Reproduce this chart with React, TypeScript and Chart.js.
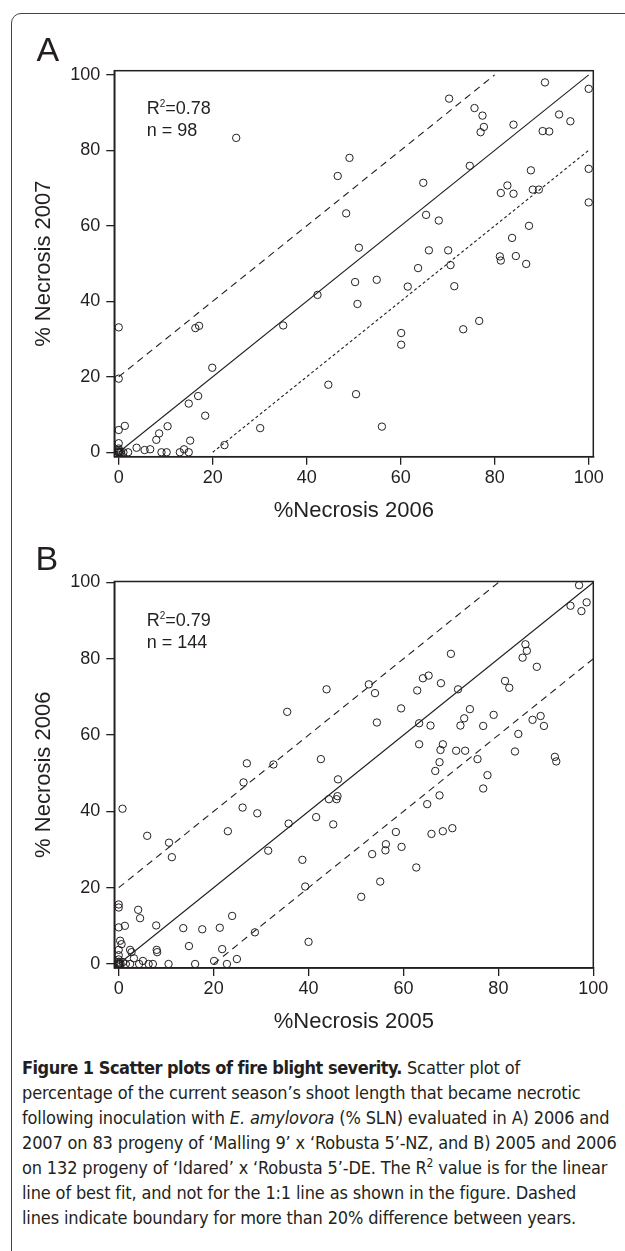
import React, { useEffect, useRef } from "react";
import { Chart, registerables } from "chart.js";

Chart.register(...registerables);

// ---------- data ----------
const TICKS = [0, 20, 40, 60, 80, 100];

// Panel A: %Necrosis 2006 (x) vs % Necrosis 2007 (y)
const A_X_2006 = [
  25.0, 46.6, 70.3, 75.7, 77.4, 77.7, 77.0, 84.0, 90.7, 100, 93.7, 96.1, 90.2, 91.6,
  49.1, 74.7, 64.8, 87.7, 100, 100, 82.7, 81.3, 84.0, 88.1, 89.4, 48.4, 65.4, 68.1,
  87.3, 83.7, 51.1, 66.0, 70.1, 81.1, 81.3, 84.5, 86.7, 42.3, 50.3, 54.9, 50.8, 63.7,
  61.5, 70.6, 71.4, 60.1, 60.1, 73.3, 76.7, 44.6, 50.5, 56.0, 0, 0, 16.3, 17.1, 19.9,
  35.0, 16.9, 14.9, 18.4, 30.1, 22.5, 0, 1.3, 0, 10.4, 8.6, 8.0, 15.2, 3.8, 5.5, 6.7,
  2.0, 9.1, 10.2, 13.0, 13.9, 14.9, 0, 0, 0.5, 0, 0, 0, 0.3, 0, 1.0,
];
const A_Y_2007 = [
  83.3, 73.2, 93.7, 91.2, 89.2, 86.2, 84.8, 86.8, 98.0, 96.3, 89.5, 87.7, 85.1, 85.0,
  78.0, 75.9, 71.4, 74.7, 75.1, 66.2, 70.7, 68.7, 68.5, 69.6, 69.6, 63.3, 62.9, 61.4,
  60.0, 56.8, 54.2, 53.5, 53.5, 51.9, 50.8, 52.0, 49.9, 41.7, 45.1, 45.7, 39.3, 48.8,
  43.9, 49.6, 44.0, 31.6, 28.5, 32.6, 34.8, 17.9, 15.4, 6.8, 33.1, 19.5, 32.9, 33.5, 22.4,
  33.6, 14.9, 12.9, 9.7, 6.4, 1.9, 5.9, 7.0, 2.4, 6.9, 5.0, 3.3, 3.1, 1.2, 0.6, 0.8,
  0, 0, 0, 0, 0.8, 0, 0, 0.6, 0, 0, 1.0, 0, 0, 0.3, 0,
];

// Panel B: %Necrosis 2005 (x) vs % Necrosis 2006 (y)
const B_X_2005 = [
  27.0, 32.6, 35.5, 43.8, 42.6, 46.2, 26.3, 97.0, 95.2, 97.5, 98.6, 85.7, 86.0, 85.1,
  88.1, 70.0, 81.4, 82.3, 64.1, 65.3, 67.9, 62.9, 71.5, 52.7, 54.0, 59.5, 74.0, 72.8,
  72.0, 76.8, 79.0, 87.2, 88.9, 89.6, 54.4, 63.3, 65.7, 84.2, 83.5, 63.3, 68.3, 67.8,
  71.1, 73.0, 67.6, 66.7, 75.6, 77.7, 91.9, 92.2, 0.8, 6.0, 10.6, 11.2, 26.1, 29.2,
  23.0, 35.8, 31.5, 41.6, 45.2, 44.3, 45.9, 46.1, 38.7, 39.3, 40.0, 28.7, 23.9, 21.3,
  17.6, 13.6, 14.8, 21.8, 24.9, 20.1, 22.8, 16.1, 10.5, 7.9, 1.3, 0, 0, 0, 4.1, 4.5,
  0.3, 0.6, 0, 0, 2.4, 2.7, 8.0, 8.1, 3.2, 5.1, 2.4, 4.3, 6.3, 7.2, 0, 0.9, 76.8, 67.6,
  65.0, 58.4, 56.3, 56.2, 53.4, 59.6, 65.9, 68.3, 70.3, 62.7, 55.1, 51.1, 0, 0, 0.4, 0,
  0, 1.5, 0, 0.2,
];
const B_Y_2006 = [
  52.6, 52.3, 66.1, 72.0, 53.7, 48.4, 47.6, 99.3, 93.9, 92.5, 94.8, 83.8, 82.1, 80.3,
  77.9, 81.3, 74.2, 72.4, 74.9, 75.6, 73.6, 71.7, 72.0, 73.3, 71.0, 67.0, 66.8, 64.4,
  62.5, 62.4, 65.3, 64.0, 65.0, 62.4, 63.3, 63.1, 62.5, 60.3, 55.7, 57.6, 57.6, 56.1,
  55.9, 55.9, 52.9, 50.6, 53.7, 49.5, 54.3, 53.1, 40.7, 33.6, 31.8, 28.0, 41.0, 39.5,
  34.8, 36.8, 29.7, 38.5, 36.6, 43.2, 43.2, 44.0, 27.3, 20.3, 5.8, 8.3, 12.6, 9.5,
  9.1, 9.4, 4.7, 3.9, 1.3, 0.8, 0, 0, 0, 10.1, 10.0, 9.6, 15.6, 14.8, 14.2, 12.0,
  6.1, 5.2, 3.7, 2.3, 3.7, 3.1, 3.7, 3.1, 1.5, 0.8, 0, 0, 0, 0, 0, 0.5, 46.0, 44.2,
  41.9, 34.6, 31.4, 29.8, 28.8, 30.7, 34.1, 34.8, 35.6, 25.3, 21.6, 17.6, 0, 0.6, 0, 1.2,
  0, 0, 0.3, 0,
];

// reference lines: 1:1 and +/-20 boundaries
const LINE_1TO1_X = [0, 100];
const LINE_1TO1_Y = [0, 100];
const LINE_UPPER_X = [0, 80];
const LINE_UPPER_Y = [20, 100];
const LINE_LOWER_X = [20, 100];
const LINE_LOWER_Y = [0, 80];

// ---------- styling ----------
const INK = "#231f20";
const FONT = '"Liberation Sans", Arial, Helvetica, sans-serif';

const framePlugin = {
  id: "frame",
  afterDatasetsDraw(chart: any) {
    const { ctx, chartArea } = chart;
    const { left, top, right, bottom } = chartArea;
    ctx.save();
    ctx.strokeStyle = INK;
    ctx.lineWidth = 1.5;
    ctx.strokeRect(left, top, right - left, bottom - top);
    ctx.restore();
  },
};

const pts = (xs: number[], ys: number[]) => xs.map((x, i) => ({ x, y: ys[i] }));

type PanelOpts = {
  xs: number[];
  ys: number[];
  xTitle: string;
  yTitle: string;
  xMin: number;
  xMax: number;
  yMin: number;
  yMax: number;
  padTop: number;
  padBottom: number;
  lowerDash: number[];
  upperDash: number[];
};

function makeConfig(o: PanelOpts): any {
  const lineDs = (xs: number[], ys: number[], dash: number[]) => ({
    data: pts(xs, ys),
    showLine: true,
    pointRadius: 0,
    pointHoverRadius: 0,
    borderColor: INK,
    borderWidth: 1.1,
    borderDash: dash,
    fill: false,
  });
  return {
    type: "scatter",
    data: {
      datasets: [
        lineDs(LINE_1TO1_X, LINE_1TO1_Y, []),
        lineDs(LINE_UPPER_X, LINE_UPPER_Y, o.upperDash),
        lineDs(LINE_LOWER_X, LINE_LOWER_Y, o.lowerDash),
        {
          data: pts(o.xs, o.ys),
          pointRadius: 3.7,
          pointHoverRadius: 3.7,
          pointBorderWidth: 1,
          borderColor: INK,
          backgroundColor: "rgba(0,0,0,0)",
          pointStyle: "circle",
        },
      ],
    },
    options: {
      responsive: false,
      animation: false,
      events: [],
      layout: { padding: { left: 0, top: o.padTop, right: 31.7, bottom: o.padBottom } },
      plugins: { legend: { display: false }, tooltip: { enabled: false }, title: { display: false } },
      scales: {
        x: {
          type: "linear",
          min: o.xMin,
          max: o.xMax,
          afterBuildTicks: (s: any) => {
            s.ticks = TICKS.map((v) => ({ value: v }));
          },
          afterFit: (s: any) => {
            s.height = 70;
          },
          grid: { display: true, drawOnChartArea: false, drawTicks: true, tickLength: 8, color: INK, lineWidth: 1.3 },
          border: { display: true, color: INK, width: 1.5 },
          ticks: { font: { family: FONT, size: 18 }, color: INK, padding: 2.5, maxRotation: 0 },
          title: {
            display: true,
            text: o.xTitle,
            color: INK,
            font: { family: FONT, size: 22 },
            padding: { top: 0, bottom: 2.5 },
          },
        },
        y: {
          type: "linear",
          min: o.yMin,
          max: o.yMax,
          afterBuildTicks: (s: any) => {
            s.ticks = TICKS.map((v) => ({ value: v }));
          },
          afterFit: (s: any) => {
            s.width = 114.3;
          },
          grid: { display: true, drawOnChartArea: false, drawTicks: true, tickLength: 8, color: INK, lineWidth: 1.3 },
          border: { display: true, color: INK, width: 1.5 },
          ticks: { font: { family: FONT, size: 18 }, color: INK, padding: 6 },
          title: {
            display: true,
            text: o.yTitle,
            color: INK,
            font: { family: FONT, size: 22 },
            padding: { top: 30.3, bottom: 0 },
          },
        },
      },
    },
    plugins: [framePlugin],
  };
}

function Panel({ top, height, opts }: { top: number; height: number; opts: PanelOpts }) {
  const ref = useRef<HTMLCanvasElement | null>(null);
  useEffect(() => {
    if (!ref.current) return;
    const chart = new Chart(ref.current, makeConfig(opts));
    return () => chart.destroy();
  }, []);
  return (
    <canvas
      ref={ref}
      width={625}
      height={height}
      style={{ position: "absolute", left: 0, top, width: 625, height }}
    />
  );
}

const statStyle: React.CSSProperties = {
  position: "absolute",
  left: 146.7,
  fontFamily: FONT,
  fontSize: 18,
  lineHeight: "22px",
  color: INK,
  whiteSpace: "nowrap",
};

const letterStyle: React.CSSProperties = {
  position: "absolute",
  fontFamily: FONT,
  fontSize: 34,
  lineHeight: "34px",
  color: INK,
};

export default function App() {
  useEffect(() => {
    document.body.style.margin = "0";
  }, []);

  const optsA: PanelOpts = {
    xs: A_X_2006,
    ys: A_Y_2007,
    xTitle: "%Necrosis 2006",
    yTitle: "% Necrosis 2007",
    xMin: -0.94,
    xMax: 100.98,
    yMin: -1.17,
    yMax: 101.1,
    padTop: 70.7,
    padBottom: 530 - 456.7 - 70,
    upperDash: [7, 5],
    lowerDash: [3, 2.5],
  };
  const optsB: PanelOpts = {
    xs: B_X_2005,
    ys: B_Y_2006,
    xTitle: "%Necrosis 2005",
    yTitle: "% Necrosis 2006",
    xMin: -0.93,
    xMax: 100,
    yMin: -1.05,
    yMax: 100.26,
    padTop: 581.5 - 530,
    padBottom: 510 - (968 - 530) - 70,
    upperDash: [7, 5],
    lowerDash: [7, 5],
  };

  const capLine: React.CSSProperties = { whiteSpace: "nowrap" };

  return (
    <div style={{ position: "relative", width: 625, height: 1251, overflow: "hidden", background: "#fff" }}>
      <div
        style={{
          position: "absolute",
          left: 11,
          top: 13,
          width: 700,
          height: 1260,
          border: "1.4px solid #444",
          borderRadius: "10px 0 0 10px",
          boxSizing: "border-box",
        }}
      />
      <Panel top={0} height={530} opts={optsA} />
      <Panel top={530} height={510} opts={optsB} />

      <div style={{ ...letterStyle, left: 36.5, top: 32.2 }}>A</div>
      <div style={{ ...letterStyle, left: 35.5, top: 541.2 }}>B</div>

      <div style={{ ...statStyle, top: 97.2 }}>
        <div>
          R<sup style={{ fontSize: 10, verticalAlign: "7px", lineHeight: 0 }}>2</sup>=0.78
        </div>
        <div>n = 98</div>
      </div>
      <div style={{ ...statStyle, top: 609.2 }}>
        <div>
          R<sup style={{ fontSize: 10, verticalAlign: "7px", lineHeight: 0 }}>2</sup>=0.79
        </div>
        <div>n = 144</div>
      </div>

      <div
        style={{
          position: "absolute",
          left: 22,
          top: 1054.5,
          fontFamily: '"DejaVu Sans Condensed", "Open Sans", sans-serif',
          fontSize: 18,
          letterSpacing: "-0.15px",
          lineHeight: "25px",
          color: INK,
        }}
      >
        <div style={capLine}>
          <b style={{ letterSpacing: "-0.5px" }}>Figure 1 Scatter plots of fire blight severity.</b> Scatter plot of
        </div>
        <div style={capLine}>percentage of the current season’s shoot length that became necrotic</div>
        <div style={capLine}>
          following inoculation with <i>E. amylovora</i> (% SLN) evaluated in A) 2006 and
        </div>
        <div style={capLine}>2007 on 83 progeny of ‘Malling 9’ x ‘Robusta 5’-NZ, and B) 2005 and 2006</div>
        <div style={capLine}>
          on 132 progeny of ‘Idared’ x ‘Robusta 5’-DE. The R
          <sup style={{ fontSize: 12, verticalAlign: "7px", lineHeight: 0 }}>2</sup> value is for the linear
        </div>
        <div style={capLine}>line of best fit, and not for the 1:1 line as shown in the figure. Dashed</div>
        <div style={capLine}>lines indicate boundary for more than 20% difference between years.</div>
      </div>
    </div>
  );
}
